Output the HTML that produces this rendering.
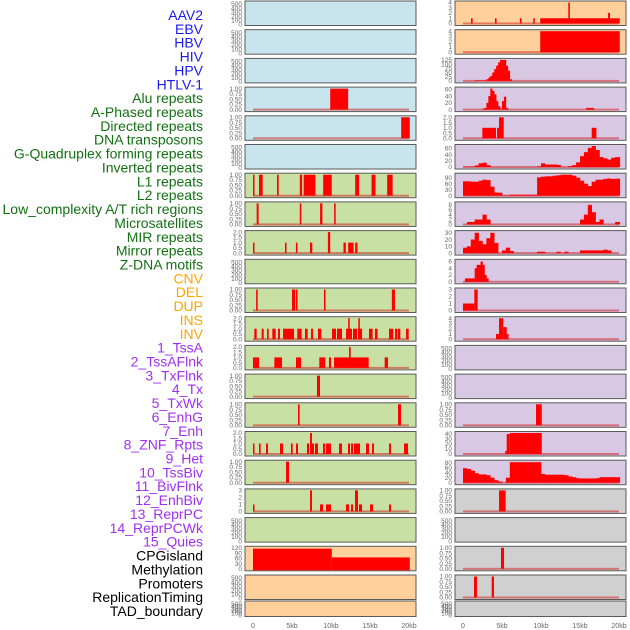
<!DOCTYPE html>
<html><head><meta charset="utf-8"><style>
html,body{margin:0;padding:0;background:#fff;width:630px;height:630px;overflow:hidden}
svg{display:block}
</style></head><body>
<svg id="chart" width="630" height="630" xmlns="http://www.w3.org/2000/svg" font-family="Liberation Sans, sans-serif"></svg>
<script>
// ---- labels ----
const trackLabels = ["AAV2","EBV","HBV","HIV","HPV","HTLV-1","Alu repeats","A-Phased repeats","Directed repeats","DNA transposons","G-Quadruplex forming repeats","Inverted repeats","L1 repeats","L2 repeats","Low_complexity A/T rich regions","Microsatellites","MIR repeats","Mirror repeats","Z-DNA motifs","CNV","DEL","DUP","INS","INV","1_TssA","2_TssAFlnk","3_TxFlnk","4_Tx","5_TxWk","6_EnhG","7_Enh","8_ZNF_Rpts","9_Het","10_TssBiv","11_BivFlnk","12_EnhBiv","13_ReprPC","14_ReprPCWk","15_Quies","CPGisland","Methylation","Promoters","ReplicationTiming","TAD_boundary"];
const labelGroups = [6,13,5,15,5];
const groupColors = ["#1a1aee","#137013","#ffa500","#a030ee","#000000"];
const xTickValues = [0,5,10,15,20];
const xTickLabels = ["0","5kb","10kb","15kb","20kb"];

// ---- data: bars are [startKb, endKb, value]; hist = start, step, values ----
const L3_bars=[[9.9,12.2,1]];
const L4_bars=[[19,20.1,1]];
const L6_bars=[[0,0.13,1],[0.77,1.24,1],[3.08,3.29,1],[6.0,6.3,1],[6.5,8.0,1],[9.0,10.1,1],[13.1,13.6,1],[15.2,15.7,1],[17.2,17.9,1]];
const L7_bars=[[0.47,0.72,1],[6.0,6.2,1],[8.6,8.9,1],[10.4,10.6,1]];
const L8_bars=[[0,0.13,1],[4.1,4.3,1],[5.5,5.7,1],[7.3,7.6,1],[9.6,9.9,2],[11.6,11.9,1],[12.2,12.9,1],[13.1,13.4,1]];
const L10_bars=[[0.4,0.6,1],[5.0,5.4,1],[5.5,5.7,1],[9.1,9.3,1],[17.8,18.2,1]];
const L11_bars=[[0.17,0.47,1],[1.11,1.37,1],[1.8,2.01,1],[2.48,2.91,1],[3.21,3.46,1],[3.85,5.26,1],[5.68,6.24,1],[6.67,7.01,1],[7.44,7.69,1],[8.33,8.76,1],[10.13,10.64,1],[10.77,11.41,1],[11.93,12.69,1],[12.2,12.4,2],[12.82,13.34,1],[13.46,13.98,1],[13.5,13.7,2],[14.87,15.34,1],[15.64,15.98,1],[17.44,17.99,1],[18.21,18.46,1],[18.55,18.89,1],[19.62,19.96,1]];
const L12_bars=[[0,0.77,1],[2.74,3.72,1],[5.51,6.16,1],[8.5,9.27,1],[9.74,10.0,1],[10.39,14.83,1],[12.31,12.52,2],[16.88,17.31,1]];
const L13_bars=[[8.2,8.59,1]];
const L14_bars=[[5.77,5.98,1],[18.59,18.98,1]];
const L15_bars=[[0,0.13,1],[0.77,0.98,1],[1.67,1.92,1],[3.46,3.85,1],[4.87,5.09,1],[5.51,5.77,1],[6.92,7.18,1],[7.31,7.56,2],[7.56,7.82,1],[7.95,8.33,1],[8.98,9.23,1],[9.36,10.0,1],[11.03,11.41,1],[12.18,12.44,1],[12.57,12.82,1],[12.95,13.72,1],[14.49,14.87,1],[15.26,15.51,1],[17.44,17.69,1],[19.36,19.87,1]];
const L16_bars=[[4.23,4.62,1]];
const L17_bars=[[0,0.13,1],[7.31,7.56,3],[8.59,8.98,1],[9.36,10.0,1],[11.92,12.31,1],[12.57,12.82,1],[13.08,13.46,3],[13.59,13.98,1],[15.0,15.38,1],[17.44,17.69,1]];
const L19_bars=[[0,10.1,115],[10.1,20.1,65]];

const R0_bars=[[1.03,1.24,1],[4.1,4.3,1],[7.3,7.5,1],[9.0,9.2,1],[9.9,20.1,1],[13.5,13.7,4],[18.6,18.85,2]];
const R1_bars=[[9.9,20.1,4]];
const R2_values=[3,3,3,3,3,3,10,20,30,50,70,90,110,125,125,125,90,60,10];
const R3_values=[3,5,20,40,62,55,45,25,10,3,25,38,5];
const R3_bars=[[15.8,16.8,5]];
const R4_bars=[[2.48,4.23,1],[4.36,4.87,1],[4.62,5.22,2],[16.5,17.1,1]];
const R5_values=[1,1,1,5,12,14,6,0,0,0,0,0,0,0,0,0,0,0,0,2,12,8,8,8,7,0,0,3,6,15,35,48,62,68,55,32,28,24,30,32];
const R6_values=[72,72,70,70,75,80,78,45,16,15,2,2,5,5,5,5,5,5,5,92,95,97,97,100,102,105,105,105,100,90,75,60,48,70,80,80,84,86,84,85];
const R7_values=[0,1,1,2,2,4,2,0,0,0,0,0,0,0,0,0,0,0,0,0,0,0,0,0,0,0,0,0,0,0,2,4,8,5,1,2,0,0,0,1];
const R8_values=[8,10,20,30,18,13,22,30,15,0,4,8,3,0,0,0,0,0,0,2,2,0,0,0,2,0,2,0,0,0,4,4,4,4,4,4,5,4,0,0];
const R9_values=[1,1,1,1,1,4,5,5,6,5,2,1];
const R10_bars=[[0,1.45,1],[1.45,1.88,3]];
const R11_bars=[[4.23,4.62,1],[4.62,5.17,4],[5.17,5.6,2.3],[5.6,5.85,1]];
const R14_bars=[[9.36,10.1,1]];
const R15_bars=[[5.4,5.6,6],[5.6,6.0,40],[6.0,10.1,42]];
const R16_values=[58,55,48,38,33,33,30,20,10,5,0,20,82,82,82,82,82,82,82,82,35,32,32,32,32,32,30,25,22,18,17,17,17,17,18,22,22,22,22,22];
const R17_bars=[[4.62,5.47,1]];
const R19_bars=[[4.87,5.26,1]];
const R20_bars=[[1.41,1.79,1],[3.68,3.97,1]];

// ---- panel specs ----
const C={blue:"#c8e4ec",green:"#c8e0a4",peach:"#ffd09c",purple:"#d8c8e4",grey:"#d0d0d0"};
const T500=["0","100","200","300","400","500"], T1=["0.00","0.25","0.50","0.75","1.00"], T2=["0.0","0.5","1.0","1.5","2.0"];
function E(bg){return {bg:bg,ticks:T500,ymax:500,empty:true};}
const leftPanels=[E(C.blue),E(C.blue),E(C.blue),
 {bg:C.blue,ticks:T1,ymax:1,bars:L3_bars},{bg:C.blue,ticks:T1,ymax:1,bars:L4_bars},E(C.blue),
 {bg:C.green,ticks:T1,ymax:1,bars:L6_bars},{bg:C.green,ticks:T1,ymax:1,bars:L7_bars},{bg:C.green,ticks:T2,ymax:2,bars:L8_bars},E(C.green),
 {bg:C.green,ticks:T1,ymax:1,bars:L10_bars},{bg:C.green,ticks:T2,ymax:2,bars:L11_bars},{bg:C.green,ticks:T2,ymax:2,bars:L12_bars},
 {bg:C.green,ticks:T1,ymax:1,bars:L13_bars},{bg:C.green,ticks:T1,ymax:1,bars:L14_bars},{bg:C.green,ticks:T2,ymax:2,bars:L15_bars},
 {bg:C.green,ticks:T1,ymax:1,bars:L16_bars},{bg:C.green,ticks:["0","1","2","3"],ymax:3,bars:L17_bars},E(C.green),
 {bg:C.peach,ticks:["0","30","60","90","120"],ymax:120,bars:L19_bars,nobase:true},E(C.peach),E(C.peach)];
const rightPanels=[
 {bg:C.peach,ticks:["0","1","2","3","4"],ymax:4,bars:R0_bars},{bg:C.peach,ticks:["0","1","2","3","4"],ymax:4,bars:R1_bars},
 {bg:C.purple,ticks:["0","25","50","75","100","125"],ymax:125,hist:R2_values,hs:1.5,step:0.25},
 {bg:C.purple,ticks:["0","20","40","60"],ymax:62,hist:R3_values,hs:2.5,step:0.25,bars:R3_bars},
 {bg:C.purple,ticks:T2,ymax:2,bars:R4_bars},
 {bg:C.purple,ticks:["0","20","40","60"],ymax:68,hist:R5_values,hs:0,step:0.5},
 {bg:C.purple,ticks:["0","30","60","90"],ymax:105,hist:R6_values,hs:0,step:0.5},
 {bg:C.purple,ticks:["0","2","4","6","8"],ymax:8.6,hist:R7_values,hs:0,step:0.5},
 {bg:C.purple,ticks:["0","10","20","30"],ymax:31,hist:R8_values,hs:0,step:0.5},
 {bg:C.purple,ticks:["0","2","4","6"],ymax:6.2,hist:R9_values,hs:0.25,step:0.25},
 {bg:C.purple,ticks:["0","1","2","3"],ymax:3,bars:R10_bars},
 {bg:C.purple,ticks:["0","1","2","3","4"],ymax:4,bars:R11_bars},
 E(C.purple),E(C.purple),
 {bg:C.purple,ticks:T1,ymax:1,bars:R14_bars},
 {bg:C.purple,ticks:["0","10","20","30","40"],ymax:42,bars:R15_bars},
 {bg:C.purple,ticks:["0","20","40","60","80"],ymax:84,hist:R16_values,hs:0,step:0.5},
 {bg:C.grey,ticks:T1,ymax:1,bars:R17_bars},E(C.grey),
 {bg:C.grey,ticks:T1,ymax:1,bars:R19_bars},{bg:C.grey,ticks:T1,ymax:1,bars:R20_bars},E(C.grey)];

const NS="http://www.w3.org/2000/svg";
const svg=document.getElementById('chart');
function mk(tag,attrs,parent){const e=document.createElementNS(NS,tag);for(const k in attrs)e.setAttribute(k,attrs[k]);(parent||svg).appendChild(e);return e;}

// labels
let li=0;
labelGroups.forEach((n,g)=>{for(let j=0;j<n;j++){const t=mk('text',{x:203,y:15+li*13.86+5,'text-anchor':'end','font-size':'14',fill:groupColors[g]});t.textContent=trackLabels[li];


li++;}});

const PW=171, X0OFF=8, KB=7.8;
function rowTop(i){return i<21?1+i*28.7:601;}
function rowH(i){return i<21?24.5:15.5;}

function drawPanel(p,left,i,col){
 const top=rowTop(i),h=rowH(i);
 const g=mk('g',{});
 
 
 const r=mk('rect',{x:left,y:top,width:PW,height:h,fill:p.bg,stroke:'#5a5a5a','stroke-width':1},g);
 
 
 const y0=top+h-2, y1=top+1.5;
 const ys=v=>y0-(v/p.ymax)*(y0-y1);
 const xs=kb=>left+X0OFF+kb*KB;
 // ticks
 const n=p.ticks.length;
 p.ticks.forEach((lab,k)=>{const v=p.empty?k*100:(k/(n-1))*(p.ymax===62?60:p.ymax===68?60:p.ymax===105?90:p.ymax===8.6?8:p.ymax===31?30:p.ymax===6.2?6:p.ymax===84?80:p.ymax===42?40:p.ymax);
  const yy=p.empty? (top+h-1)-(k/(n-1))*(h-4) : ys(v);
  const t=mk('text',{x:left-3,y:yy+2.2,'text-anchor':'end','font-size':'6.5',fill:'#666'},g);t.textContent=lab;
  
  });
 if(p.empty)return;
 if(!p.nobase){const b=mk('rect',{x:xs(0),y:y0-1,width:xs(20)-xs(0),height:2,fill:'rgba(210,40,40,0.55)'},g);
  
  }
 if(p.hist){p.hist.forEach((v,k)=>{if(v<=0)return;const s=p.hs+k*p.step;let e=s+p.step;if(p.step===0.5&&k===p.hist.length-1)e=20.1;
  const b=mk('rect',{x:xs(s),y:ys(v),width:xs(e)-xs(s)+0.3,height:y0-ys(v),fill:'#ff0000'},g);
  
  });}
 if(p.bars){p.bars.forEach(d=>{const w=Math.max(1.5,xs(d[1])-xs(d[0]));
  const b=mk('rect',{x:xs(d[0]),y:ys(d[2]),width:w,height:y0-ys(d[2])+(p.nobase?1.5:0),fill:'#ff0000'},g);
  
  });}
}
leftPanels.forEach((p,i)=>drawPanel(p,245,i,'left'));
rightPanels.forEach((p,i)=>drawPanel(p,455,i,'right'));

// x axes
[245,455].forEach(left=>{xTickValues.forEach((v,k)=>{const t=mk('text',{x:left+X0OFF+v*KB,y:628,'text-anchor':'middle','font-size':'7',fill:'#666'});t.textContent=xTickLabels[k];
 
 });});
</script>
</body></html>
